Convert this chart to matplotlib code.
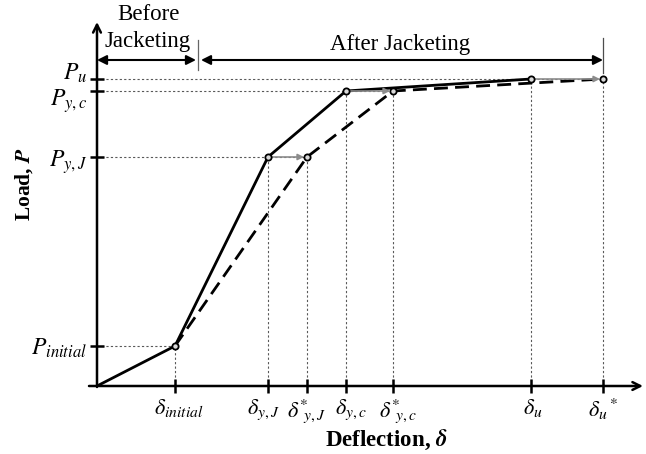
import matplotlib
matplotlib.use("Agg")
import matplotlib.pyplot as plt
from matplotlib.transforms import ScaledTranslation

plt.rcParams["mathtext.fontset"] = "stix"
plt.rcParams["font.family"] = ["Liberation Serif", "DejaVu Serif"]

# Characteristic deflections (mm) and loads (kN) of the idealised load-deflection curve
delta_labels = [r"$\delta_{initial}$", r"$\delta_{y,J}$", r"$\delta^{*}\!\!{}_{y,J}$", r"$\delta_{y,c}$",
                r"$\delta^{*}\!\!{}_{y,c}$", r"$\delta_u$", r"$\delta_u{}^*$"]
delta_initial, delta_yJ, delta_yJ_star = 7.8, 17.1, 21.0
delta_yc, delta_yc_star, delta_u, delta_u_star = 24.9, 29.6, 43.4, 50.6
load_labels = [r"$P_{initial}$", r"$P_{y,J}$", r"$P_{y,c}$", r"$P_u$"]
P_initial, P_yJ, P_yc, P_u = 40, 229, 295, 307

# Jacketed member (solid) and shifted response (dashed)
solid_x = [0, delta_initial, delta_yJ, delta_yc, delta_u]
solid_y = [0, P_initial, P_yJ, P_yc, P_u]
dashed_x = [delta_initial, delta_yJ_star, delta_yc_star, delta_u_star]
dashed_y = [P_initial, P_yJ, P_yc, P_u]

fig = plt.figure(figsize=(6.46, 4.54), dpi=100)
ax = fig.add_axes([97/646, 68/454, 546/646, 364/454])
ax.set_xlim(0, 54.6)
ax.set_ylim(0, 364)
for s in ax.spines.values():
    s.set_visible(False)
ax.patch.set_alpha(0)

dot = dict(color="0.35", lw=0.8, linestyle=(0, (2, 2)), zorder=1)

# horizontal guide lines from the load axis
ax.plot([0, delta_initial], [P_initial] * 2, **dot)
ax.plot([0, delta_yJ_star], [P_yJ] * 2, **dot)
ax.plot([0, delta_yc_star], [P_yc] * 2, **dot)
ax.plot([0, delta_u_star], [P_u] * 2, **dot)
# vertical guide lines down to the deflection axis
for x, y in zip([delta_initial, delta_yJ, delta_yJ_star, delta_yc, delta_yc_star, delta_u, delta_u_star],
                [P_initial, P_yJ, P_yJ, P_yc, P_yc, P_u, P_u]):
    ax.plot([x, x], [0, y], **dot)

ax.plot(solid_x, solid_y, color="black", lw=2, zorder=3)
ax.plot(dashed_x, dashed_y, color="black", lw=2, linestyle=(0, (5, 2.6)), zorder=3)

# grey arrows showing the deflection shift
for x0, x1, y in [(delta_yJ, delta_yJ_star, P_yJ), (delta_yc, delta_yc_star, P_yc),
                  (delta_u, delta_u_star, P_u)]:
    ax.annotate("", xy=(x1 - 0.3, y), xytext=(x0, y),
                arrowprops=dict(arrowstyle="-|>", color="0.55", lw=1.2,
                                mutation_scale=9, shrinkA=0, shrinkB=0), zorder=4)

marker_x = [delta_initial, delta_yJ, delta_yJ_star, delta_yc, delta_yc_star, delta_u, delta_u_star]
marker_y = [P_initial, P_yJ, P_yJ, P_yc, P_yc, P_u, P_u]
ax.plot(marker_x, marker_y, "o", ms=4.5, mfc="0.85", mec="black", mew=1.3, ls="none", zorder=5)

# axes with arrow heads
ax.annotate("", xy=(54.6, 0), xytext=(-0.8, 0),
            arrowprops=dict(arrowstyle="->", lw=1.8, color="black", shrinkA=0, shrinkB=0,
                            mutation_scale=14), annotation_clip=False)
ax.annotate("", xy=(0, 364), xytext=(0, -1),
            arrowprops=dict(arrowstyle="->", lw=1.8, color="black", shrinkA=0, shrinkB=0,
                            mutation_scale=14), annotation_clip=False)

ax.set_xticks(marker_x, delta_labels)
ax.set_yticks([P_initial, P_yJ, P_yc, P_u], load_labels)
ax.tick_params(axis="x", direction="inout", length=10, width=1.8, pad=3, labelsize=16)
ax.tick_params(axis="y", direction="inout", length=10, width=1.8, pad=2, labelsize=17)

# nudge crowded deflection labels sideways (pixels)
for lab, dx in zip(ax.get_xticklabels(), [4, -5, 0, 5, 5, 2, 0]):
    lab.set_transform(lab.get_transform() + ScaledTranslation(dx / 100, 0, fig.dpi_scale_trans))

# separate the two closely spaced load labels
yl = ax.get_yticklabels()
yl[2].set_transform(yl[2].get_transform() + ScaledTranslation(0, -5 / 100, fig.dpi_scale_trans))
yl[3].set_transform(yl[3].get_transform() + ScaledTranslation(0, 8 / 100, fig.dpi_scale_trans))

# stage brackets above the curve
bracket = dict(arrowstyle="<|-|>", lw=1.5, color="black", shrinkA=0, shrinkB=0, mutation_scale=14)
ax.annotate("", xy=(0, 326), xytext=(9.9, 326), arrowprops=bracket)
ax.annotate("", xy=(10.4, 326), xytext=(delta_u_star, 326), arrowprops=bracket)
ax.plot([10.1, 10.1], [316, 346], color="0.4", lw=0.9)
ax.plot([delta_u_star] * 2, [P_u + 6, 348], color="0.3", lw=0.9)
ax.text(5.1, 371, "Before", ha="center", va="center", fontsize=16.5)
ax.text(5.1, 344, "Jacketing", ha="center", va="center", fontsize=16.5)
ax.text(30.3, 341, "After Jacketing", ha="center", va="center", fontsize=16.5)

ax.text(-7.3, 202, r"Load, $\boldsymbol{P}$", rotation=90, ha="center", va="center",
        fontsize=15.5, fontweight="bold")
ax.text(28.9, -54, r"Deflection, $\boldsymbol{\delta}$", ha="center", va="center",
        fontsize=16.5, fontweight="bold")

fig.savefig("out.png", dpi=100)
